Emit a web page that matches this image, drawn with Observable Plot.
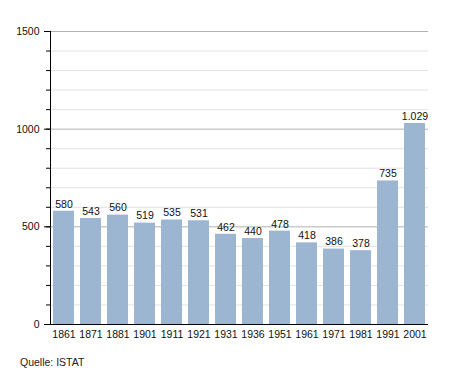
<!DOCTYPE html>
<html><head><meta charset="utf-8">
<script src="https://cdn.jsdelivr.net/npm/d3@7"></script>
<script src="https://cdn.jsdelivr.net/npm/@observablehq/plot@0.6"></script>
<style>
body{margin:0;background:#fff;font-family:"Liberation Sans",Arial,sans-serif;}
#cap{font-size:10.5px;color:#222;margin:14px 0 0 20px;}
</style></head><body>
<div id="chart"></div>
<div id="cap">Quelle: ISTAT</div>
<script>
const years = ["1861","1871","1881","1901","1911","1921","1931","1936","1951","1961","1971","1981","1991","2001"];
const population = [580,543,560,519,535,531,462,440,478,418,386,378,735,1029];
const majorTicks = [0,500,1000,1500];
const minorTicks = d3.range(0,1501,100);

const data = years.map((y,i)=>({year:y, value:population[i]}));
const fmt = d3.formatLocale({decimal:",",thousands:".",grouping:[3],currency:["","€"]}).format(",d");

const chart = Plot.plot({
  width:455, height:342,
  marginLeft:50, marginRight:27, marginTop:31, marginBottom:18,
  style:{fontFamily:"Liberation Sans, Arial, sans-serif", fontSize:"10.5px", color:"#111"},
  x:{domain:years, paddingInner:0.22, paddingOuter:0.02, label:null},
  y:{domain:[0,1500], label:null},
  marks:[
    Plot.ruleY(minorTicks.filter(d=>d%500!==0), {stroke:"#e2e2e2", strokeOpacity:1}),
    Plot.ruleY(majorTicks.filter(d=>d>0), {stroke:"#b0b0b0", strokeOpacity:1}),
    Plot.barY(data, {x:"year", y:"value", fill:"#9cb5d0"}),
    Plot.text(data, {x:"year", y:"value", text:d=>fmt(d.value), dy:-7, fill:"#111"}),
    Plot.axisY(minorTicks, {tickSize:4, text:null, label:null, stroke:"#000", strokeOpacity:1}),
    Plot.axisY(majorTicks, {tickSize:6, tickPadding:5, label:null, tickFormat:d=>String(d), stroke:"#000", strokeOpacity:1}),
    Plot.axisX({tickSize:0, tickPadding:6, label:null}),
    Plot.frame({anchor:"left", stroke:"#000", strokeOpacity:1}),
    Plot.ruleY([0], {stroke:"#000"})
  ]
});
document.getElementById("chart").appendChild(chart);
</script>
</body></html>
